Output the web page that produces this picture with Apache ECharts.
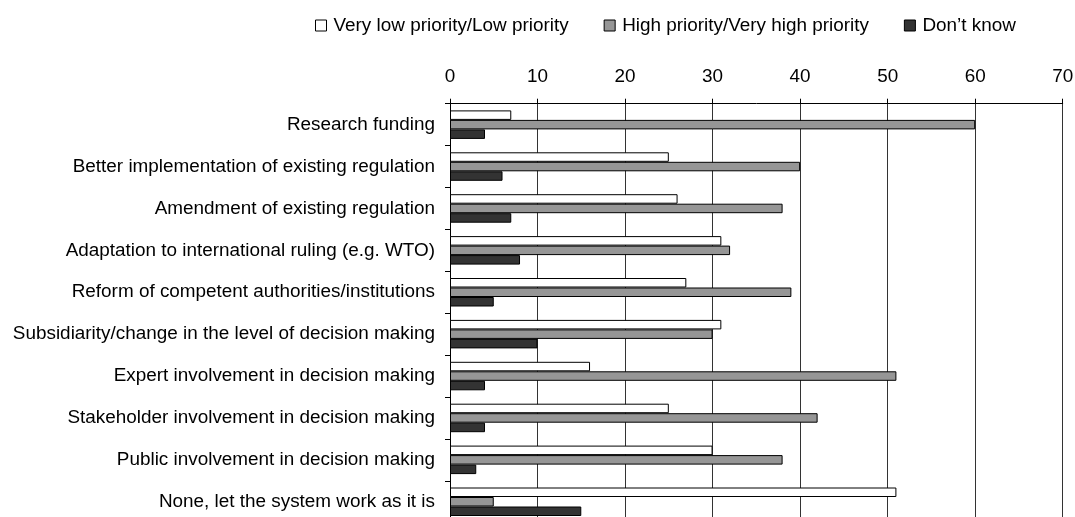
<!DOCTYPE html>
<html>
<head>
<meta charset="utf-8">
<script src="https://cdn.jsdelivr.net/npm/echarts@6/dist/echarts.min.js"></script>
<style>
html,body{margin:0;padding:0;background:#fff;}
#chart{width:1075px;height:517px;}
</style>
</head>
<body>
<div id="chart"></div>
<script>
var categories = [
  "Research funding",
  "Better implementation of existing regulation",
  "Amendment of existing regulation",
  "Adaptation to international ruling (e.g. WTO)",
  "Reform of competent authorities/institutions",
  "Subsidiarity/change in the level of decision making",
  "Expert involvement in decision making",
  "Stakeholder involvement in decision making",
  "Public involvement in decision making",
  "None, let the system work as it is"
];
var seriesNames = ["Very low priority/Low priority", "High priority/Very high priority", "Don\u2019t know"];
var lowPriority  = [7, 25, 26, 31, 27, 31, 16, 25, 30, 51];
var highPriority = [60, 40, 38, 32, 39, 30, 51, 42, 38, 5];
var dontKnow     = [4, 6, 7, 8, 5, 10, 4, 4, 3, 15];
var xTicks = [0, 10, 20, 30, 40, 50, 60, 70];

var colors = ["#ffffff", "#969696", "#333333"];
var values = [lowPriority, highPriority, dontKnow];
var FONT = "'Liberation Sans', Arial, sans-serif";
var FS = 18.9;

var chart = echarts.init(document.getElementById('chart'), null, {renderer: 'canvas'});

var series = seriesNames.map(function (name, i) {
  return {
    name: name,
    type: 'bar',
    data: values[i],
    barWidth: 9.5,
    barGap: '0%',
    itemStyle: {color: colors[i], borderColor: '#000', borderWidth: 1},
    emphasis: {disabled: true},
    animation: false
  };
});

chart.setOption({
  animation: false,
  backgroundColor: '#fff',
  textStyle: {fontFamily: FONT},
  legend: {
    left: 315,
    top: 16,
    padding: 0,
    itemWidth: 11,
    itemHeight: 11,
    itemGap: 35,
    icon: 'rect',
    data: seriesNames,
    itemStyle: {borderColor: '#000', borderWidth: 1},
    textStyle: {fontFamily: FONT, fontSize: FS, color: '#000', padding: [0, 0, 0, 2]}
  },
  grid: {left: 450, top: 103.7, width: 612.7, height: 419, containLabel: false, outerBoundsMode: 'none'},
  xAxis: {
    type: 'value',
    position: 'top',
    min: xTicks[0],
    max: xTicks[xTicks.length - 1],
    interval: 10,
    axisLine: {show: true, lineStyle: {color: '#000', width: 1}},
    axisTick: {show: true, length: 5, lineStyle: {color: '#000'}},
    axisLabel: {fontFamily: FONT, fontSize: FS, color: '#000', margin: 17},
    splitLine: {show: true, lineStyle: {color: '#333', width: 1}}
  },
  yAxis: {
    type: 'category',
    inverse: true,
    data: categories,
    axisLine: {show: true, lineStyle: {color: '#000', width: 1}},
    axisTick: {show: true, length: 5, lineStyle: {color: '#000'}},
    axisLabel: {fontFamily: FONT, fontSize: FS, color: '#000', margin: 15}
  },
  series: series
});
</script>
</body>
</html>
